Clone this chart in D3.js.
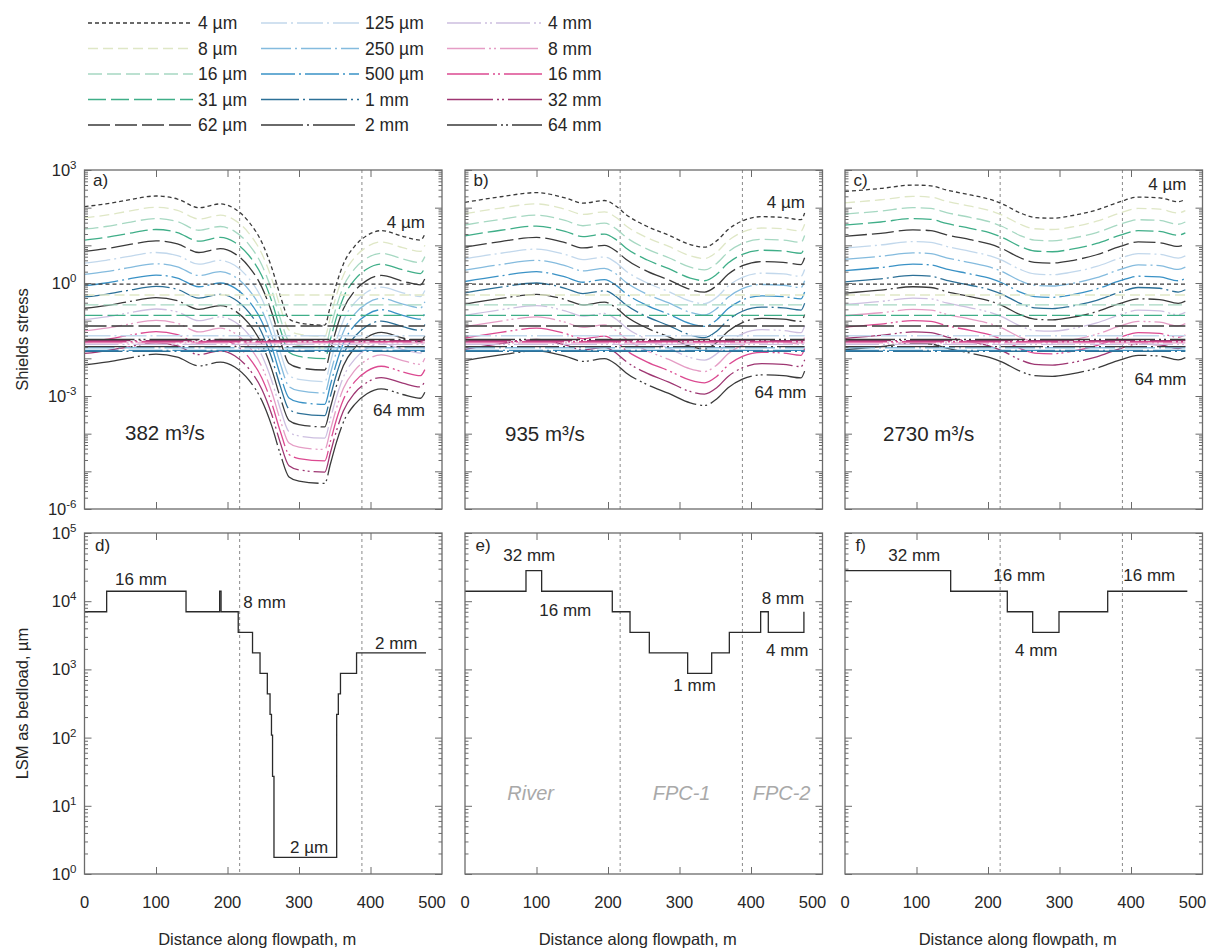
<!DOCTYPE html>
<html><head><meta charset="utf-8">
<script src="https://cdn.jsdelivr.net/npm/d3@7"></script>
<style>body{margin:0;background:#fff}svg{display:block;font-family:"Liberation Sans",Arial,sans-serif}</style>
</head><body><svg id="c" width="1218" height="952"></svg>
<script>
// ---------------- DATA ----------------
const grainSizes = ["4 µm","8 µm","16 µm","31 µm","62 µm","125 µm","250 µm","500 µm","1 mm","2 mm","4 mm","8 mm","16 mm","32 mm","64 mm"];
const discharges = ["382 m³/s","935 m³/s","2730 m³/s"];
const xTickValues = [0,100,200,300,400,500];
const zoneBoundaries = [217, 388];           // m, dashed lines
const zoneNames = ["River","FPC-1","FPC-2"];

// critical Shields stress (log10) for each grain size
const criticalShields_log10 = [-0.03,-0.32,-0.58,-0.86,-1.14,-1.40,-1.72,-1.79,-1.81,-1.69,-1.63,-1.59,-1.56,-1.53,-1.50];

// Panel a (382 m3/s): distance (m) and log10 Shields stress per grain size
const distanceA = [0,30,60,100,130,160,190,210,230,248,262,274,286,300,336,344,352,362,378,395,415,445,470,476];
const shieldsA_log10 = [
 [2.03,2.10,2.20,2.31,2.23,2.00,2.10,1.97,1.62,1.08,0.40,-0.35,-0.95,-1.06,-1.12,-0.60,-0.05,0.50,0.98,1.26,1.39,1.24,1.14,1.30],
 [1.73,1.80,1.90,2.01,1.93,1.70,1.80,1.67,1.32,0.78,0.10,-0.65,-1.25,-1.36,-1.42,-0.90,-0.35,0.20,0.68,0.96,1.09,0.94,0.84,1.00],
 [1.43,1.50,1.60,1.71,1.63,1.40,1.50,1.37,1.02,0.48,-0.20,-0.95,-1.55,-1.66,-1.72,-1.20,-0.65,-0.10,0.38,0.66,0.79,0.64,0.54,0.70],
 [1.14,1.21,1.31,1.42,1.34,1.11,1.21,1.08,0.73,0.19,-0.49,-1.24,-1.84,-1.95,-2.01,-1.49,-0.94,-0.39,0.09,0.37,0.50,0.35,0.25,0.41],
 [0.84,0.91,1.01,1.12,1.04,0.81,0.91,0.78,0.43,-0.11,-0.79,-1.54,-2.14,-2.25,-2.31,-1.79,-1.24,-0.69,-0.21,0.07,0.20,0.05,-0.05,0.11],
 [0.53,0.60,0.70,0.81,0.73,0.50,0.60,0.47,0.12,-0.42,-1.10,-1.85,-2.45,-2.56,-2.62,-2.10,-1.55,-1.00,-0.52,-0.24,-0.11,-0.26,-0.36,-0.20],
 [0.23,0.30,0.40,0.51,0.43,0.20,0.30,0.17,-0.18,-0.72,-1.40,-2.15,-2.75,-2.86,-2.92,-2.40,-1.85,-1.30,-0.82,-0.54,-0.41,-0.56,-0.66,-0.50],
 [-0.07,0.00,0.10,0.21,0.13,-0.10,0.00,-0.13,-0.48,-1.02,-1.70,-2.45,-3.05,-3.16,-3.22,-2.70,-2.15,-1.60,-1.12,-0.84,-0.71,-0.86,-0.96,-0.80],
 [-0.37,-0.30,-0.20,-0.09,-0.17,-0.40,-0.30,-0.43,-0.78,-1.32,-2.00,-2.75,-3.35,-3.46,-3.52,-3.00,-2.45,-1.90,-1.42,-1.14,-1.01,-1.16,-1.26,-1.10],
 [-0.67,-0.60,-0.50,-0.39,-0.47,-0.70,-0.60,-0.73,-1.08,-1.62,-2.30,-3.05,-3.65,-3.76,-3.82,-3.30,-2.75,-2.20,-1.72,-1.44,-1.31,-1.46,-1.56,-1.40],
 [-0.97,-0.90,-0.80,-0.69,-0.77,-1.00,-0.90,-1.03,-1.38,-1.92,-2.60,-3.35,-3.95,-4.06,-4.12,-3.60,-3.05,-2.50,-2.02,-1.74,-1.61,-1.76,-1.86,-1.70],
 [-1.27,-1.20,-1.10,-0.99,-1.07,-1.30,-1.20,-1.33,-1.68,-2.22,-2.90,-3.65,-4.25,-4.36,-4.42,-3.90,-3.35,-2.80,-2.32,-2.04,-1.91,-2.06,-2.16,-2.00],
 [-1.57,-1.50,-1.40,-1.29,-1.37,-1.60,-1.50,-1.63,-1.98,-2.52,-3.20,-3.95,-4.55,-4.66,-4.72,-4.20,-3.65,-3.10,-2.62,-2.34,-2.21,-2.36,-2.46,-2.30],
 [-1.87,-1.80,-1.70,-1.59,-1.67,-1.90,-1.80,-1.93,-2.28,-2.82,-3.50,-4.25,-4.85,-4.96,-5.02,-4.50,-3.95,-3.40,-2.92,-2.64,-2.51,-2.66,-2.76,-2.60],
 [-2.17,-2.10,-2.00,-1.89,-1.97,-2.20,-2.10,-2.23,-2.58,-3.12,-3.80,-4.55,-5.15,-5.26,-5.32,-4.80,-4.25,-3.70,-3.22,-2.94,-2.81,-2.96,-3.06,-2.90]
];

// Panel b (935 m3/s)
const distanceB = [0,50,100,140,165,195,212,225,255,285,315,335,352,368,388,415,445,470,475];
const shieldsB_log10 = [
 [2.14,2.29,2.40,2.26,2.12,2.19,2.03,1.82,1.50,1.27,1.02,0.95,1.12,1.42,1.65,1.76,1.74,1.68,1.86],
 [1.84,1.99,2.10,1.96,1.82,1.89,1.73,1.52,1.20,0.97,0.72,0.65,0.82,1.12,1.35,1.46,1.44,1.38,1.56],
 [1.54,1.69,1.80,1.66,1.52,1.59,1.43,1.22,0.90,0.67,0.42,0.35,0.52,0.82,1.05,1.16,1.14,1.08,1.26],
 [1.25,1.40,1.51,1.37,1.23,1.30,1.14,0.93,0.61,0.38,0.13,0.06,0.23,0.53,0.76,0.87,0.85,0.79,0.97],
 [0.95,1.10,1.21,1.07,0.93,1.00,0.84,0.63,0.31,0.08,-0.17,-0.24,-0.07,0.23,0.46,0.57,0.55,0.49,0.67],
 [0.64,0.79,0.90,0.76,0.62,0.69,0.53,0.32,0.00,-0.23,-0.48,-0.55,-0.38,-0.08,0.15,0.26,0.24,0.18,0.36],
 [0.34,0.49,0.60,0.46,0.32,0.39,0.23,0.02,-0.30,-0.53,-0.78,-0.85,-0.68,-0.38,-0.15,-0.04,-0.06,-0.12,0.06],
 [0.04,0.19,0.30,0.16,0.02,0.09,-0.07,-0.28,-0.60,-0.83,-1.08,-1.15,-0.98,-0.68,-0.45,-0.34,-0.36,-0.42,-0.24],
 [-0.26,-0.11,0.00,-0.14,-0.28,-0.21,-0.37,-0.58,-0.90,-1.13,-1.38,-1.45,-1.28,-0.98,-0.75,-0.64,-0.66,-0.72,-0.54],
 [-0.56,-0.41,-0.30,-0.44,-0.58,-0.51,-0.67,-0.88,-1.20,-1.43,-1.68,-1.75,-1.58,-1.28,-1.05,-0.94,-0.96,-1.02,-0.84],
 [-0.86,-0.71,-0.60,-0.74,-0.88,-0.81,-0.97,-1.18,-1.50,-1.73,-1.98,-2.05,-1.88,-1.58,-1.35,-1.24,-1.26,-1.32,-1.14],
 [-1.16,-1.01,-0.90,-1.04,-1.18,-1.11,-1.27,-1.48,-1.80,-2.03,-2.28,-2.35,-2.18,-1.88,-1.65,-1.54,-1.56,-1.62,-1.44],
 [-1.46,-1.31,-1.20,-1.34,-1.48,-1.41,-1.57,-1.78,-2.10,-2.33,-2.58,-2.65,-2.48,-2.18,-1.95,-1.84,-1.86,-1.92,-1.74],
 [-1.76,-1.61,-1.50,-1.64,-1.78,-1.71,-1.87,-2.08,-2.40,-2.63,-2.88,-2.95,-2.78,-2.48,-2.25,-2.14,-2.16,-2.22,-2.04],
 [-2.06,-1.91,-1.80,-1.94,-2.08,-2.01,-2.17,-2.38,-2.70,-2.93,-3.18,-3.25,-3.08,-2.78,-2.55,-2.44,-2.46,-2.52,-2.34]
];

// Panel c (2730 m3/s)
const distanceC = [0,50,95,120,142,175,203,220,245,265,290,315,352,385,410,440,466,476];
const shieldsC_log10 = [
 [2.43,2.51,2.60,2.58,2.47,2.34,2.22,2.10,1.86,1.74,1.72,1.78,1.94,2.16,2.28,2.26,2.16,2.22],
 [2.13,2.21,2.30,2.28,2.17,2.04,1.92,1.80,1.56,1.44,1.42,1.48,1.64,1.86,1.98,1.96,1.86,1.92],
 [1.83,1.91,2.00,1.98,1.87,1.74,1.62,1.50,1.26,1.14,1.12,1.18,1.34,1.56,1.68,1.66,1.56,1.62],
 [1.54,1.62,1.71,1.69,1.58,1.45,1.33,1.21,0.97,0.85,0.83,0.89,1.05,1.27,1.39,1.37,1.27,1.33],
 [1.24,1.32,1.41,1.39,1.28,1.15,1.03,0.91,0.67,0.55,0.53,0.59,0.75,0.97,1.09,1.07,0.97,1.03],
 [0.93,1.01,1.10,1.08,0.97,0.84,0.72,0.60,0.36,0.24,0.22,0.28,0.44,0.66,0.78,0.76,0.66,0.72],
 [0.63,0.71,0.80,0.78,0.67,0.54,0.42,0.30,0.06,-0.06,-0.08,-0.02,0.14,0.36,0.48,0.46,0.36,0.42],
 [0.33,0.41,0.50,0.48,0.37,0.24,0.12,0.00,-0.24,-0.36,-0.38,-0.32,-0.16,0.06,0.18,0.16,0.06,0.12],
 [0.03,0.11,0.20,0.18,0.07,-0.06,-0.18,-0.30,-0.54,-0.66,-0.68,-0.62,-0.46,-0.24,-0.12,-0.14,-0.24,-0.18],
 [-0.27,-0.19,-0.10,-0.12,-0.23,-0.36,-0.48,-0.60,-0.84,-0.96,-0.98,-0.92,-0.76,-0.54,-0.42,-0.44,-0.54,-0.48],
 [-0.57,-0.49,-0.40,-0.42,-0.53,-0.66,-0.78,-0.90,-1.14,-1.26,-1.28,-1.22,-1.06,-0.84,-0.72,-0.74,-0.84,-0.78],
 [-0.87,-0.79,-0.70,-0.72,-0.83,-0.96,-1.08,-1.20,-1.44,-1.56,-1.58,-1.52,-1.36,-1.14,-1.02,-1.04,-1.14,-1.08],
 [-1.17,-1.09,-1.00,-1.02,-1.13,-1.26,-1.38,-1.50,-1.74,-1.86,-1.88,-1.82,-1.66,-1.44,-1.32,-1.34,-1.44,-1.38],
 [-1.47,-1.39,-1.30,-1.32,-1.43,-1.56,-1.68,-1.80,-2.04,-2.16,-2.18,-2.12,-1.96,-1.74,-1.62,-1.64,-1.74,-1.68],
 [-1.77,-1.69,-1.60,-1.62,-1.73,-1.86,-1.98,-2.10,-2.34,-2.46,-2.48,-2.42,-2.26,-2.04,-1.92,-1.94,-2.04,-1.98]
];

// Largest size mobile as bedload (µm), step profiles: start distance (m) of each step and its value
const lsmD_x = [0,31,142,189,191,215,235,245.5,255.7,259.5,261.5,263,265,352.7,355,358,380.5,477.6];
const lsmD_v = [7000,14000,7000,14000,7000,3500,1750,875,437,219,109,27,1.75,219,437,875,1750,1750];
const lsmE_x = [0,85.3,107.2,206,230.8,257.8,311.4,345,369.7,413.5,424.2,474];
const lsmE_v = [14000,28000,14000,7000,3500,1750,875,1750,3500,7000,3500,7000];
const lsmF_x = [0,147.8,227,262.5,299.3,367.4,478.8];
const lsmF_v = [28000,14000,7000,3500,7000,14000,14000];

// ---------------- STYLE ----------------
const seriesColors = ["#3a3a3a","#dfe7c6","#a6d8c2","#3fae88","#3a3a3a","#c2d8ec","#84bbde","#3a92c6","#2c7097","#3a3a3a","#cdbfe0","#e59dc5","#dc4a91","#9e3672","#3a3a3a"];
const seriesDash = ["4,3","10,5","14,5","18,5","22,5",
  "26,4,2,4","30,4,2,4","34,4,2,4","38,4,2,4","42,4,2,4",
  "34,4,2,3,2,4","38,4,2,3,2,4","42,4,2,3,2,4","46,4,2,3,2,4","50,4,2,3,2,4"];

const svg = d3.select("#c");
const panelLefts = [84.5, 465, 845];
const panelW = 357.5;
const topBox = [170, 509], botBox = [533, 874];
const frameColor = "#6b6b6b";
const textColor = "#262626";

const shieldsSets = [shieldsA_log10, shieldsB_log10, shieldsC_log10];
const distSets = [distanceA, distanceB, distanceC];
const lsmSets = [[lsmD_x, lsmD_v],[lsmE_x, lsmE_v],[lsmF_x, lsmF_v]];

function superLabel(g, x, y, base, exp){
  const t = g.append("text").attr("x", x).attr("y", y).attr("text-anchor","end")
    .attr("font-size", 16.5).attr("fill", textColor);
  t.append("tspan").text(base);
  t.append("tspan").attr("dy", -7).attr("font-size", 11.5).text(exp);
}

function drawAxes(g, x, y, box, logMin, logMax, labelled, labelDecades){
  const L = x.range()[0], R = x.range()[1];
  const majors = [], minors = [];
  for (let k = logMin; k <= logMax; k++){
    majors.push(Math.pow(10,k));
    if (k < logMax) for (let m = 2; m <= 9; m++) minors.push(m*Math.pow(10,k));
  }
  const mk = (axisFn, vals, size, tx) => {
    const a = g.append("g").attr("transform", tx)
      .call(axisFn(y).tickValues(vals).tickSize(-size).tickFormat(""));
    a.select(".domain").remove();
    a.selectAll("line").attr("stroke", frameColor).attr("stroke-width", 1);
  };
  mk(d3.axisLeft, majors, 7, `translate(${L},0)`);
  mk(d3.axisLeft, minors, 3.5, `translate(${L},0)`);
  mk(d3.axisRight, majors, 7, `translate(${R},0)`);
  mk(d3.axisRight, minors, 3.5, `translate(${R},0)`);
  const xt = (axisFn, ty) => {
    const a = g.append("g").attr("transform", `translate(0,${ty})`)
      .call(axisFn(x).tickValues([100,200,300,400]).tickSize(-7).tickFormat(""));
    a.select(".domain").remove();
    a.selectAll("line").attr("stroke", frameColor).attr("stroke-width", 1);
  };
  xt(d3.axisBottom, box[1]);
  xt(d3.axisTop, box[0]);
  if (labelled){
    labelDecades.forEach(k => superLabel(g, L - 8, y(Math.pow(10,k)) + 6, "10", String(k)));
  }
}

function frame(g, x, box){
  g.append("rect").attr("x", x.range()[0]).attr("y", box[0])
    .attr("width", x.range()[1]-x.range()[0]).attr("height", box[1]-box[0])
    .attr("fill","none").attr("stroke", frameColor).attr("stroke-width", 1.3);
}

function zoneLines(g, x, box){
  g.selectAll(null).data(zoneBoundaries).enter().append("line")
    .attr("x1", d => x(d)).attr("x2", d => x(d)).attr("y1", box[0]).attr("y2", box[1])
    .attr("stroke", "#8a8a8a").attr("stroke-width", 1).attr("stroke-dasharray", "3,3");
}

const topLabels = [
  {p:"a)", s4:[425,228], s64:[425,416], q:[125,440]},
  {p:"b)", s4:[805,208], s64:[806.5,398], q:[505,441]},
  {p:"c)", s4:[1186.5,190], s64:[1186.5,384.5], q:[883,441]}
];

for (let p = 0; p < 3; p++){
  const L = panelLefts[p];
  const x = d3.scaleLinear().domain([0,500]).range([L, L+panelW]);
  const yT = d3.scaleLog().domain([1e-6,1e3]).range([topBox[1], topBox[0]]);
  const yB = d3.scaleLog().domain([1,1e5]).range([botBox[1], botBox[0]]);

  // ---- top panel: Shields stress ----
  const gT = svg.append("g");
  zoneLines(gT, x, topBox);
  const xs = distSets[p];
  const line = d3.line().x((d,i) => x(xs[i])).y(d => yT(Math.pow(10,d))).curve(d3.curveMonotoneX);
  shieldsSets[p].forEach((row, i) => {
    gT.append("path").attr("d", line(row)).attr("fill","none")
      .attr("stroke", seriesColors[i]).attr("stroke-width", 1.3)
      .attr("stroke-dasharray", seriesDash[i]);
  });
  const hline = d3.line().x(d => x(d[0])).y(d => yT(Math.pow(10,d[1])));
  criticalShields_log10.forEach((c, i) => {
    gT.append("path").attr("d", hline([[xs[0], c],[xs[xs.length-1], c]])).attr("fill","none")
      .attr("stroke", seriesColors[i]).attr("stroke-width", 1.4)
      .attr("stroke-dasharray", seriesDash[i]);
  });
  frame(gT, x, topBox);
  drawAxes(gT, x, yT, topBox, -6, 3, p === 0, [3,0,-3,-6]);
  const tl = topLabels[p];
  gT.append("text").attr("x", L+8.5).attr("y", topBox[0]+16).attr("font-size",17).attr("fill",textColor).text(tl.p);
  gT.append("text").attr("x", tl.s4[0]).attr("y", tl.s4[1]).attr("text-anchor","end").attr("font-size",17).attr("fill",textColor).text(grainSizes[0]);
  gT.append("text").attr("x", tl.s64[0]).attr("y", tl.s64[1]).attr("text-anchor","end").attr("font-size",17).attr("fill",textColor).text(grainSizes[14]);
  gT.append("text").attr("x", tl.q[0]).attr("y", tl.q[1]).attr("font-size",20.5).attr("fill",textColor).text(discharges[p]);

  // ---- bottom panel: LSM ----
  const gB = svg.append("g");
  zoneLines(gB, x, botBox);
  const [lx, lv] = lsmSets[p];
  const step = d3.line().x((d,i) => x(lx[i])).y(d => yB(d)).curve(d3.curveStepAfter);
  gB.append("path").attr("d", step(lv)).attr("fill","none").attr("stroke","#2a2a2a").attr("stroke-width",1.3);
  frame(gB, x, botBox);
  drawAxes(gB, x, yB, botBox, 0, 5, p === 0, [5,4,3,2,1,0]);
  gB.append("text").attr("x", L+10.5).attr("y", botBox[0]+18).attr("font-size",17).attr("fill",textColor).text(["d)","e)","f)"][p]);

  xTickValues.forEach(v => {
    gB.append("text").attr("x", x(v) + (v === 500 ? -10 : 0)).attr("y", 908)
      .attr("text-anchor","middle").attr("font-size",16.5).attr("fill",textColor).text(v);
  });
  gB.append("text").attr("x", L + panelW/2 - 6).attr("y", 945).attr("text-anchor","middle")
    .attr("font-size",16.5).attr("fill",textColor).text("Distance along flowpath, m");
}

// bottom annotations
const botNotes = [
  ["16 mm",115,584.5],["8 mm",243.3,608],["2 mm",375,648.5],["2 µm",290,853],
  ["32 mm",503.3,560.5],["16 mm",539.3,616],["1 mm",673.3,690.5],["8 mm",761.7,604],["4 mm",766,656],
  ["32 mm",888.3,560.5],["16 mm",993.3,581],["16 mm",1123.3,581],["4 mm",1015,656]
];
botNotes.forEach(n => svg.append("text").attr("x", n[1]).attr("y", n[2]).attr("font-size",17).attr("fill",textColor).text(n[0]));
const zonePos = [[507.3,800],[652.7,800],[752.7,800]];
zoneNames.forEach((z,i) => svg.append("text").attr("x", zonePos[i][0]).attr("y", zonePos[i][1])
  .attr("font-size",20).attr("font-style","italic").attr("fill","#a9a9a9").text(z));

// y-axis titles
svg.append("text").attr("transform","translate(28,339.5) rotate(-90)").attr("text-anchor","middle")
  .attr("font-size",16.5).attr("fill",textColor).text("Shields stress");
svg.append("text").attr("transform","translate(28,703.5) rotate(-90)").attr("text-anchor","middle")
  .attr("font-size",16.5).attr("fill",textColor).text("LSM as bedload, µm");

// legend
const legLine = [[88,193],[261,359],[447,542]];
const legText = [198, 365, 548];
grainSizes.forEach((s, i) => {
  const col = Math.floor(i/5), row = i % 5;
  const yy = 23 + row*25.5;
  svg.append("line").attr("x1", legLine[col][0]).attr("x2", legLine[col][1]).attr("y1", yy).attr("y2", yy)
    .attr("stroke", seriesColors[i]).attr("stroke-width", 1.3).attr("stroke-dasharray", seriesDash[i]);
  svg.append("text").attr("x", legText[col]).attr("y", yy+6).attr("font-size",17.5).attr("fill",textColor).text(s);
});
</script></body></html>
